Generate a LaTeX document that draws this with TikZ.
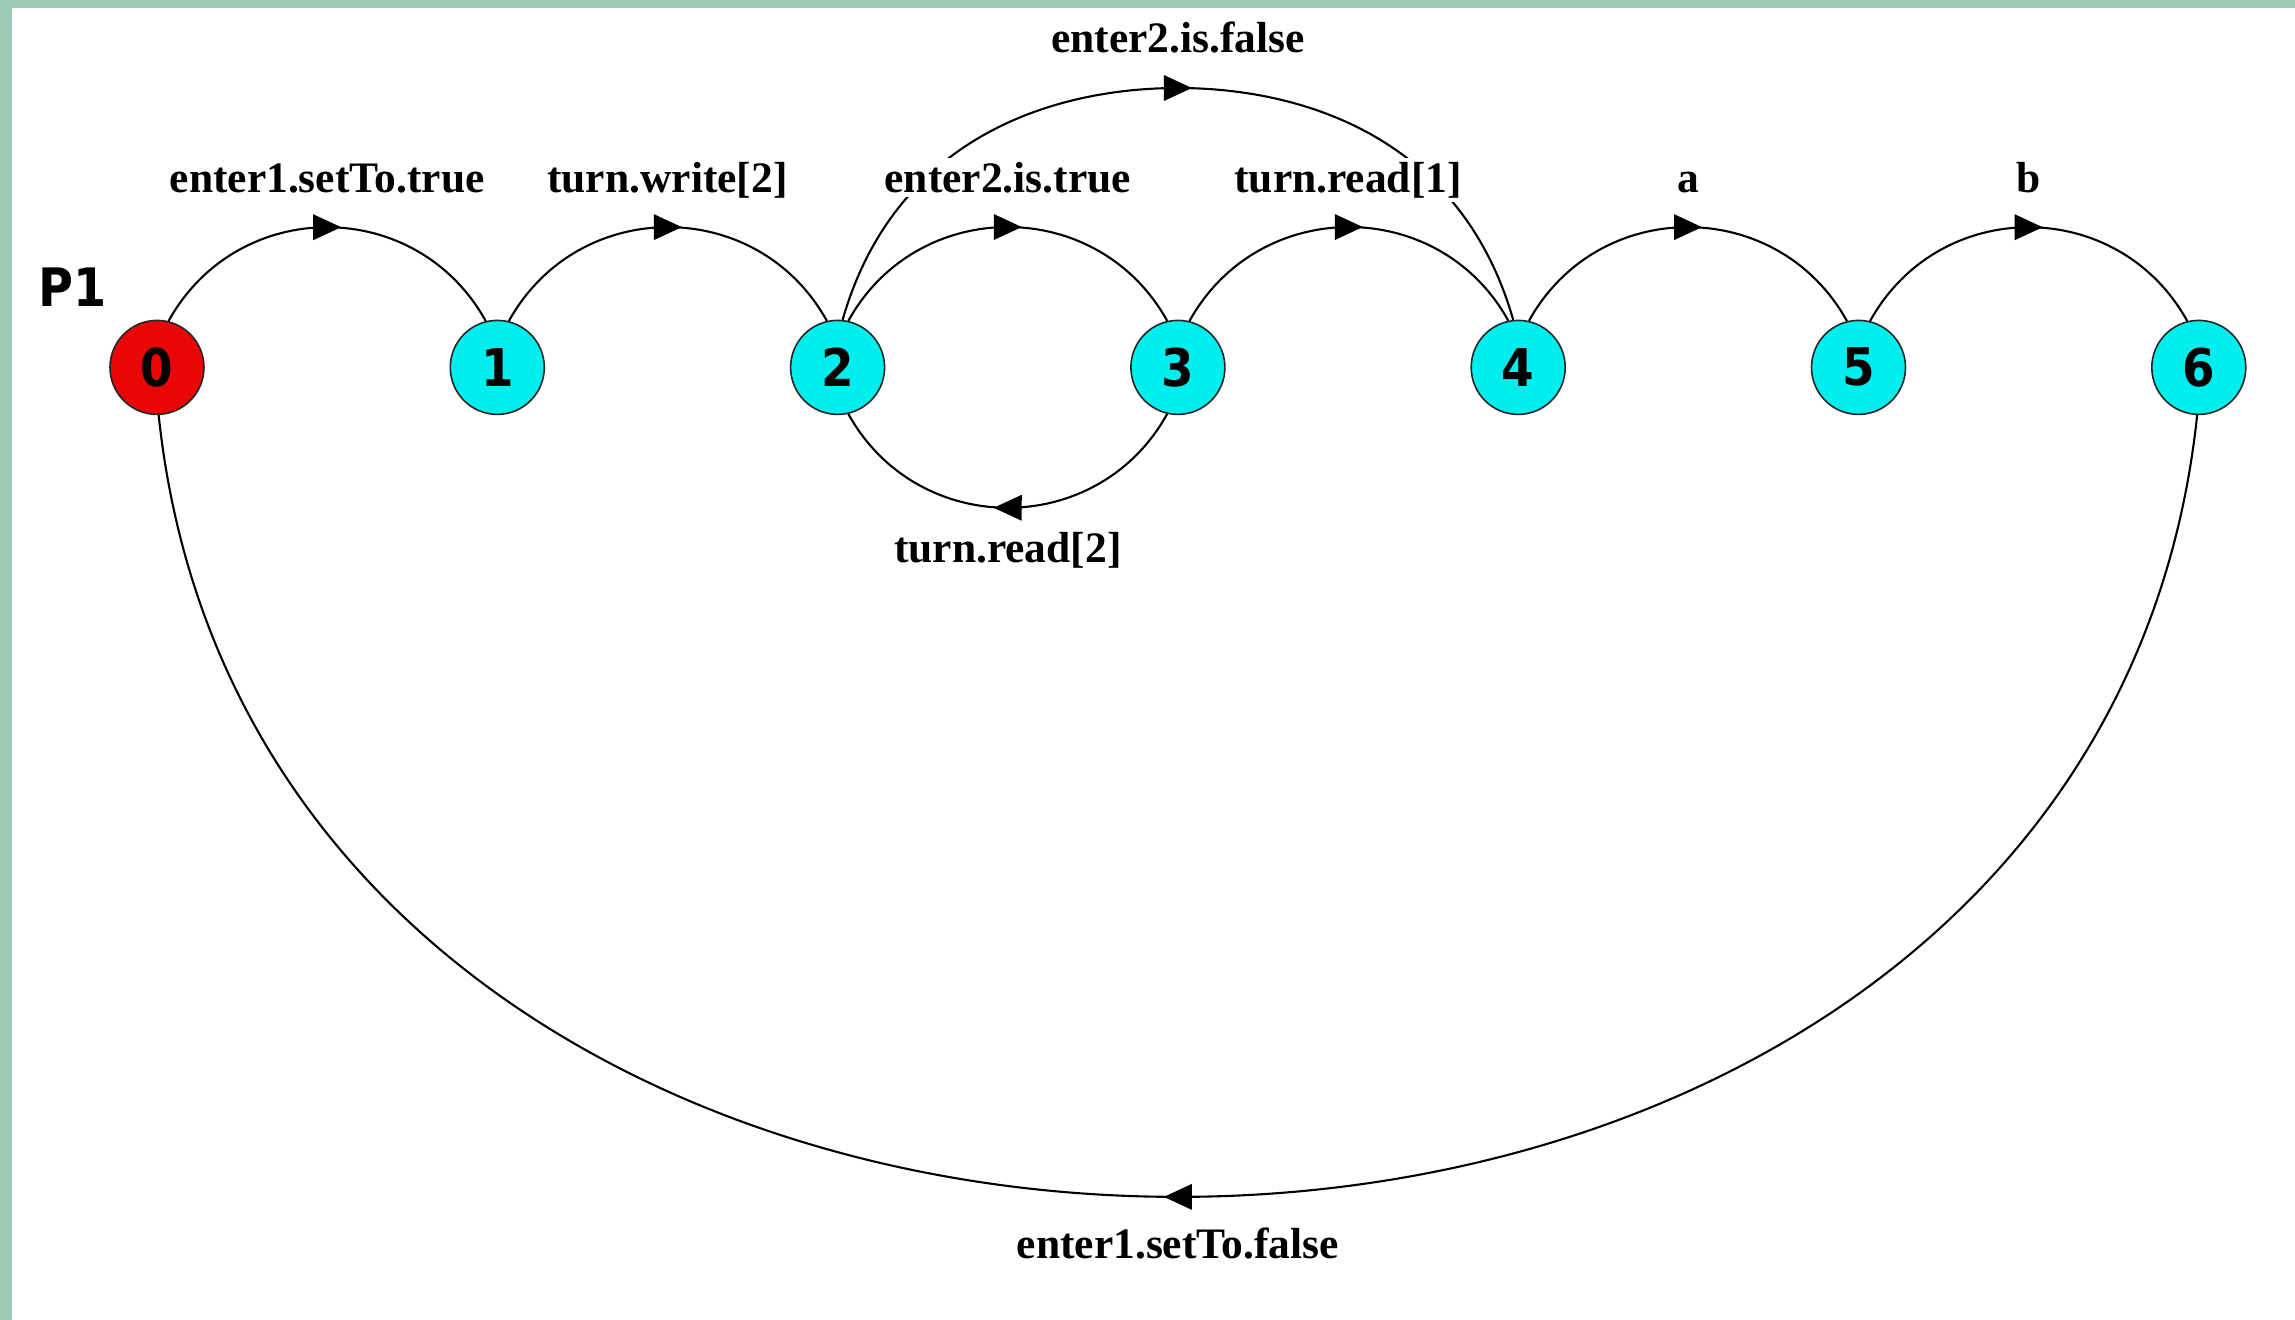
\documentclass[tikz,border=0pt]{standalone}
\usepackage{fontspec}
\setmainfont{Liberation Serif}
\newfontfamily\nodefont{DejaVu Sans}[FakeStretch=0.9]
\usetikzlibrary{decorations.markings}
\definecolor{bordergreen}{RGB}{156,203,184}
\definecolor{nodered}{RGB}{232,6,6}
\definecolor{nodecyan}{RGB}{0,238,238}
\tikzset{
  state/.style={circle, draw=black!85, line width=1.6pt, minimum size=94pt, inner sep=0pt,
    font=\nodefont\bfseries\fontsize{52}{52}\selectfont},
  redstate/.style={state, fill=nodered},
  cyanstate/.style={state, fill=nodecyan},
  edge/.style={draw, line width=2.1pt, postaction={decorate},
    decoration={markings, mark=at position 0.5 with {\fill (14pt,0pt) -- (-14pt,13pt) -- (-14pt,-13pt) -- cycle;}}},
  lbl/.style={font=\bfseries\fontsize{43.5}{43.5}\selectfont, fill=white, inner sep=4pt, anchor=base},
  ptitle/.style={font=\nodefont\bfseries\fontsize{53}{53}\selectfont, inner sep=0pt, anchor=base west}
}
\begin{document}
\begin{tikzpicture}[x=1pt,y=1pt]
\useasboundingbox (0,0) rectangle (2295,-1320);
\fill[white] (0,0) rectangle (2295,-1320);
\fill[bordergreen] (0,0) rectangle (2295,-8);
\fill[bordergreen] (0,0) rectangle (12,-1320);

% states
\node[redstate]  (n0) at (157,-367.4) {0};
\node[cyanstate] (n1) at (497.3,-367.4) {1};
\node[cyanstate] (n2) at (837.6,-367.4) {2};
\node[cyanstate] (n3) at (1177.9,-367.4) {3};
\node[cyanstate] (n4) at (1518.2,-367.4) {4};
\node[cyanstate] (n5) at (1858.5,-367.4) {5};
\node[cyanstate] (n6) at (2198.8,-367.4) {6};

\node[ptitle] (p1) at (38,-306) {P1};

\coordinate (top24) at (1177.9,-88);

% transitions
\draw[edge] (n0.76) .. controls +(61:143) and +(119:143) .. (n1.104);
\draw[edge] (n1.76) .. controls +(61:143) and +(119:143) .. (n2.103);
\draw[edge] (n2.77) .. controls +(61:143) and +(119:143) .. (n3.103);
\draw[edge] (n3.76) .. controls +(61:143) and +(119:143) .. (n4.102);
\draw[edge] (n4.77) .. controls +(61:143) and +(119:143) .. (n5.104);
\draw[edge] (n5.76) .. controls +(61:143) and +(119:143) .. (n6.104);
\draw[edge] (n3.-103) .. controls +(-119:143) and +(-61:143) .. (n2.-77);
\draw[edge] (n2.84) .. controls +(74:195) and +(-118,0) .. (top24)
            .. controls +(118,0) and +(106:195) .. (n4.96);
\draw[edge] (n6.-92) .. controls +(-96:1048) and +(-84:1048) .. (n0.-88);

% labels
\node[lbl] (l01) at (327.2,-192) {enter1.setTo.true};
\node[lbl] (l12) at (667.5,-192) {turn.write[2]};
\node[lbl] (l23) at (1007.8,-192) {enter2.is.true};
\node[lbl] (l34) at (1348.1,-192) {turn.read[1]};
\node[lbl] (l45) at (1688.4,-192) {a};
\node[lbl] (l56) at (2028.7,-192) {b};
\node[lbl] (l24) at (1177.9,-52) {enter2.is.false};
\node[lbl] (l32) at (1007.8,-562) {turn.read[2]};
\node[lbl] (l60) at (1177.9,-1258) {enter1.setTo.false};
\end{tikzpicture}
\end{document}
